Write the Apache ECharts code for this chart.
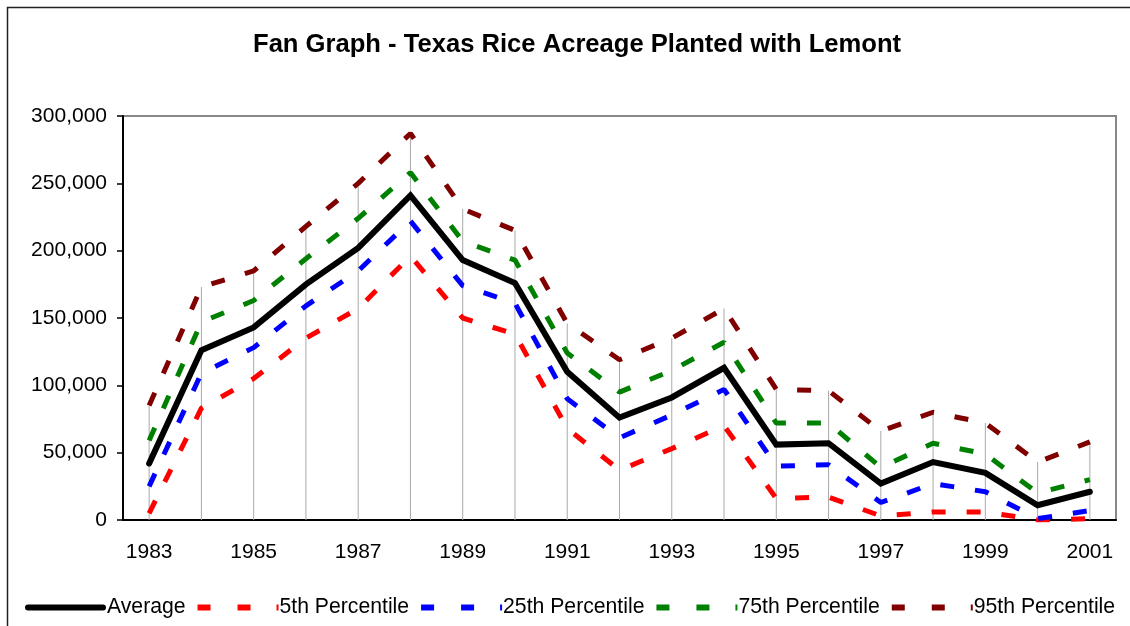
<!DOCTYPE html>
<html>
<head>
<meta charset="utf-8">
<script src="https://cdn.jsdelivr.net/npm/echarts@6/dist/echarts.min.js"></script>
<style>
  html, body { margin: 0; padding: 0; background: #fff; }
  #chart { width: 1130px; height: 626px; }
</style>
</head>
<body>
<div id="chart"></div>
<script>
// 数据
const years = ["1983", "1984", "1985", "1986", "1987", "1988", "1989", "1990", "1991", "1992",
  "1993", "1994", "1995", "1996", "1997", "1998", "1999", "2000", "2001"];
const average = [42000, 126000, 143000, 175000, 202000, 241000, 193000, 176000, 110000, 76000,
  91000, 113000, 56000, 57000, 27000, 43000, 35000, 11000, 21000];
const p5 = [5000, 83000, 105000, 135000, 157000, 196000, 150000, 138000, 68000, 37000,
  53000, 70000, 16000, 17000, 3000, 6000, 6000, 0, 1000];
const p25 = [25000, 109000, 128000, 159000, 185000, 222000, 174000, 161000, 90000, 61000,
  78000, 97000, 40000, 41000, 13000, 27000, 21000, 1000, 7000];
const p75 = [59000, 147000, 163000, 194000, 224000, 258000, 207000, 193000, 124000, 95000,
  111000, 132000, 72000, 72000, 39000, 57000, 49000, 20000, 30000];
const p95 = [85000, 173000, 185000, 218000, 250000, 287000, 231000, 215000, 146000, 119000,
  135000, 157000, 97000, 96000, 66000, 80000, 72000, 43000, 58000];
const yTicks = [0, 50000, 100000, 150000, 200000, 250000, 300000];

const chart = echarts.init(document.getElementById("chart"));
const font = "Liberation Sans, Arial, sans-serif";

// 图例图标
const solidIcon = "path://M3,0H78A3,3,0,0,1,78,6H3A3,3,0,0,1,3,0Z";
const dashIcon = "path://M0,0H13V6H0ZM40,0H53V6H40ZM79,0H81V6H79Z";

function dashed(name, data, color) {
  return {
    name: name,
    type: "line",
    data: data,
    symbol: "none",
    z: 3,
    lineStyle: { color: color, width: 5, type: [14, 21], cap: "butt" },
    itemStyle: { color: color }
  };
}

const options = {
  animation: false,
  backgroundColor: "#fff",
  title: {
    text: "Fan Graph - Texas Rice Acreage Planted with Lemont",
    left: 248,
    top: 27,
    textStyle: { fontFamily: font, fontSize: 25.6, fontWeight: "bold", color: "#000" }
  },
  graphic: [
    {
      type: "rect",
      shape: { x: 7.5, y: 7.5, width: 1300, height: 800 },
      style: { fill: "none", stroke: "#222", lineWidth: 1.5 },
      silent: true
    }
  ],
  legend: {
    bottom: 3,
    left: 20,
    itemWidth: 81,
    itemHeight: 6,
    itemGap: 12,
    symbolKeepAspect: false,
    itemStyle: { borderWidth: 0 },
    textStyle: { fontFamily: font, fontSize: 21.2, color: "#000", padding: [0, 0, 0, -4] },
    data: [
      { name: "Average", icon: solidIcon },
      { name: "5th Percentile", icon: dashIcon },
      { name: "25th Percentile", icon: dashIcon },
      { name: "75th Percentile", icon: dashIcon },
      { name: "95th Percentile", icon: dashIcon }
    ]
  },
  grid: {
    left: 123,
    right: 14,
    top: 116,
    bottom: 106,
    show: true,
    borderColor: "#888",
    borderWidth: 2
  },
  xAxis: {
    type: "category",
    data: years,
    boundaryGap: true,
    axisLine: { lineStyle: { color: "#000", width: 2 } },
    axisTick: { interval: 0, length: 6, lineStyle: { color: "#000", width: 1.5 } },
    axisLabel: { interval: 1, margin: 22, fontFamily: font, fontSize: 21, color: "#000" },
    splitLine: { show: false }
  },
  yAxis: {
    type: "value",
    min: yTicks[0],
    max: yTicks[yTicks.length - 1],
    interval: yTicks[1] - yTicks[0],
    axisLine: { show: true, lineStyle: { color: "#000", width: 2 } },
    axisTick: { show: true, length: 6, lineStyle: { color: "#000", width: 1.5 } },
    axisLabel: {
      margin: 16,
      fontFamily: font,
      fontSize: 21,
      color: "#000",
      formatter: v => v.toLocaleString("en-US")
    },
    splitLine: { show: false }
  },
  series: [
    {
      name: "drop",
      type: "bar",
      data: p95,
      barWidth: 1,
      z: 1,
      itemStyle: { color: "#aaa" }
    },
    dashed("5th Percentile", p5, "#ff0000"),
    dashed("25th Percentile", p25, "#0000ff"),
    dashed("75th Percentile", p75, "#008000"),
    dashed("95th Percentile", p95, "#800000"),
    {
      name: "Average",
      type: "line",
      data: average,
      symbol: "none",
      z: 4,
      lineStyle: { color: "#000", width: 6, cap: "round", join: "miter" },
      itemStyle: { color: "#000" }
    }
  ]
};
chart.setOption(options);
</script>
</body>
</html>
